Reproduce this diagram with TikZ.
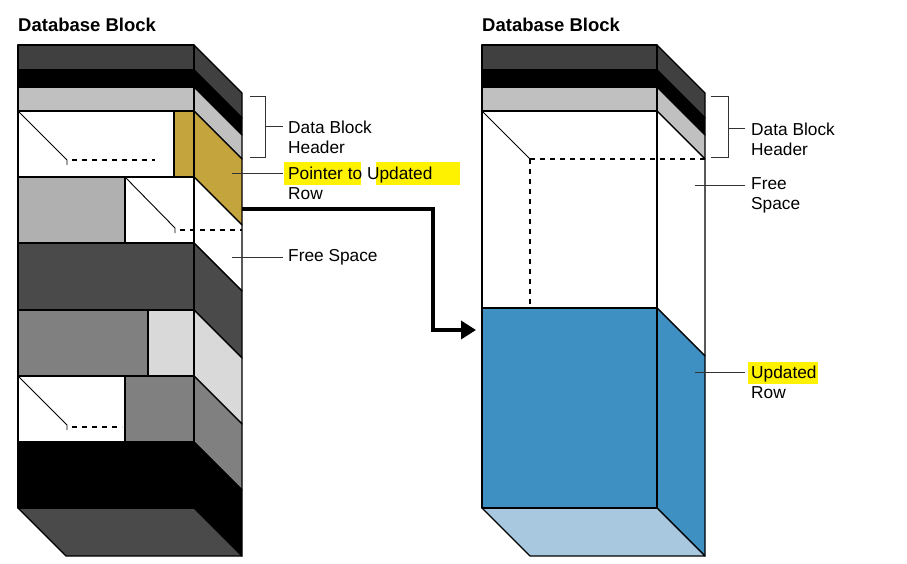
\documentclass[tikz,border=0pt]{standalone}
\usepackage{fontspec}
\setmainfont{Liberation Sans}
\usetikzlibrary{arrows.meta}
\begin{document}
\begin{tikzpicture}[x=1pt,y=-1pt,
  fc/.style={draw=black,line width=1.2pt,line join=round},
  lbl/.style={anchor=west,inner sep=0pt,font=\fontsize{17.3}{20}\selectfont,align=left},
  lead/.style={draw=black!80,line width=0.8pt},
  dsh/.style={draw=black,line width=1.2pt,dash pattern=on 5pt off 5pt},
  hl/.style={fill=yellow,draw=none},
  ttl/.style={anchor=west,inner sep=0pt,font=\bfseries\fontsize{18.5}{20}\selectfont}]
\useasboundingbox (0,0) rectangle (907,564);
\definecolor{dg}{HTML}{404040}
\definecolor{lg}{HTML}{C0C0C0}
\definecolor{gold}{HTML}{C4A43C}
\definecolor{mg}{HTML}{808080}
\definecolor{vlg}{HTML}{D9D9D9}
\definecolor{g2}{HTML}{B0B0B0}
\definecolor{d2}{HTML}{4A4A4A}
\definecolor{blu}{HTML}{3F90C2}
\definecolor{lblu}{HTML}{A8C8E0}
% titles
\node[ttl] (t1) at (18,25) {Database Block};
\node[ttl] (t2) at (482,25) {Database Block};
% ===== left block
\foreach \a/\b/\c in {45/70/dg,70/87/black,87/111/lg,111/177/gold,177/243/white,243/310/d2,310/376/vlg,376/442/mg,442/508/black}
  \draw[fc,fill=\c] (194,\a) -- (242,\a+48) -- (242,\b+48) -- (194,\b) -- cycle;
\draw[fc,fill=d2] (18,508) -- (194,508) -- (242,556) -- (66,556) -- cycle;
\draw[fc,fill=dg] (18,45) rectangle (194,70);
\draw[fc,fill=black] (18,70) rectangle (194,87);
\draw[fc,fill=lg] (18,87) rectangle (194,111);
\draw[fc,fill=white] (18,111) rectangle (174,177);
\draw[fc,fill=gold] (174,111) rectangle (194,177);
\draw[fc,fill=g2] (18,177) rectangle (125,243);
\draw[fc,fill=white] (125,177) rectangle (194,243);
\draw[fc,fill=d2] (18,243) rectangle (194,310);
\draw[fc,fill=mg] (18,310) rectangle (148,376);
\draw[fc,fill=vlg] (148,310) rectangle (194,376);
\draw[fc,fill=white] (18,376) rectangle (125,442);
\draw[fc,fill=mg] (125,376) rectangle (194,442);
\draw[fc,fill=black] (18,442) rectangle (194,508);
\draw[line width=0.9pt] (18,111) -- (67,160) -- (67,165);
\draw[dsh] (72,160) -- (155,160);
\draw[line width=0.9pt] (125,177) -- (175,228) -- (175,233);
\draw[dsh] (180,230) -- (242,230);
\draw[line width=0.9pt] (18,376) -- (67,425) -- (67,430);
\draw[dsh] (72,427) -- (122,427);
% ===== right block
\foreach \a/\b/\c in {45/70/dg,70/87/black,87/111/lg,111/308/white,308/508/blu}
  \draw[fc,fill=\c] (657,\a) -- (705,\a+48) -- (705,\b+48) -- (657,\b) -- cycle;
\draw[fc,fill=lblu] (482,508) -- (657,508) -- (705,556) -- (530,556) -- cycle;
\draw[fc,fill=dg] (482,45) rectangle (657,70);
\draw[fc,fill=black] (482,70) rectangle (657,87);
\draw[fc,fill=lg] (482,87) rectangle (657,111);
\draw[fc,fill=white] (482,111) rectangle (657,308);
\draw[fc,fill=blu] (482,308) rectangle (657,508);
\draw[line width=0.9pt] (482,111) -- (530,159);
\draw[dsh] (530,159) -- (705,159);
\draw[dsh] (530,159) -- (530,308);
% ===== arrow
\coordinate (as) at (242,209);
\coordinate (ae) at (476,330);
\draw[line width=3.5pt,-{Triangle[length=15pt,width=18pt]}] (as) -- (433,209) -- (433,330) -- (ae);
% ===== labels left
\draw[lead] (250,96) -- (265,96) -- (265,157) -- (250,157);
\draw[lead] (265,126) -- (283,126);
\node[lbl] (l1) at (288,137) {Data Block\\Header};
\fill[hl] (284,162) rectangle (361,185);
\fill[hl] (376,162) rectangle (460,185);
\draw[lead] (232,173) -- (283,173);
\node[lbl] (l2) at (288,183) {Pointer to Updated\\Row};
\draw[lead] (232,257) -- (283,257);
\node[lbl] (l3) at (288,257) {Free Space};
% ===== labels right
\draw[lead] (711,96) -- (728,96) -- (728,157) -- (711,157);
\draw[lead] (728,128) -- (745,128);
\node[lbl] (r1) at (751,139) {Data Block\\Header};
\draw[lead] (695,185) -- (745,185);
\node[lbl] (r2) at (751,195) {Free\\Space};
\fill[hl] (748,362) rectangle (818,384);
\draw[lead] (695,372) -- (745,372);
\node[lbl] (r3) at (751,382) {Updated\\Row};
\end{tikzpicture}
\end{document}
